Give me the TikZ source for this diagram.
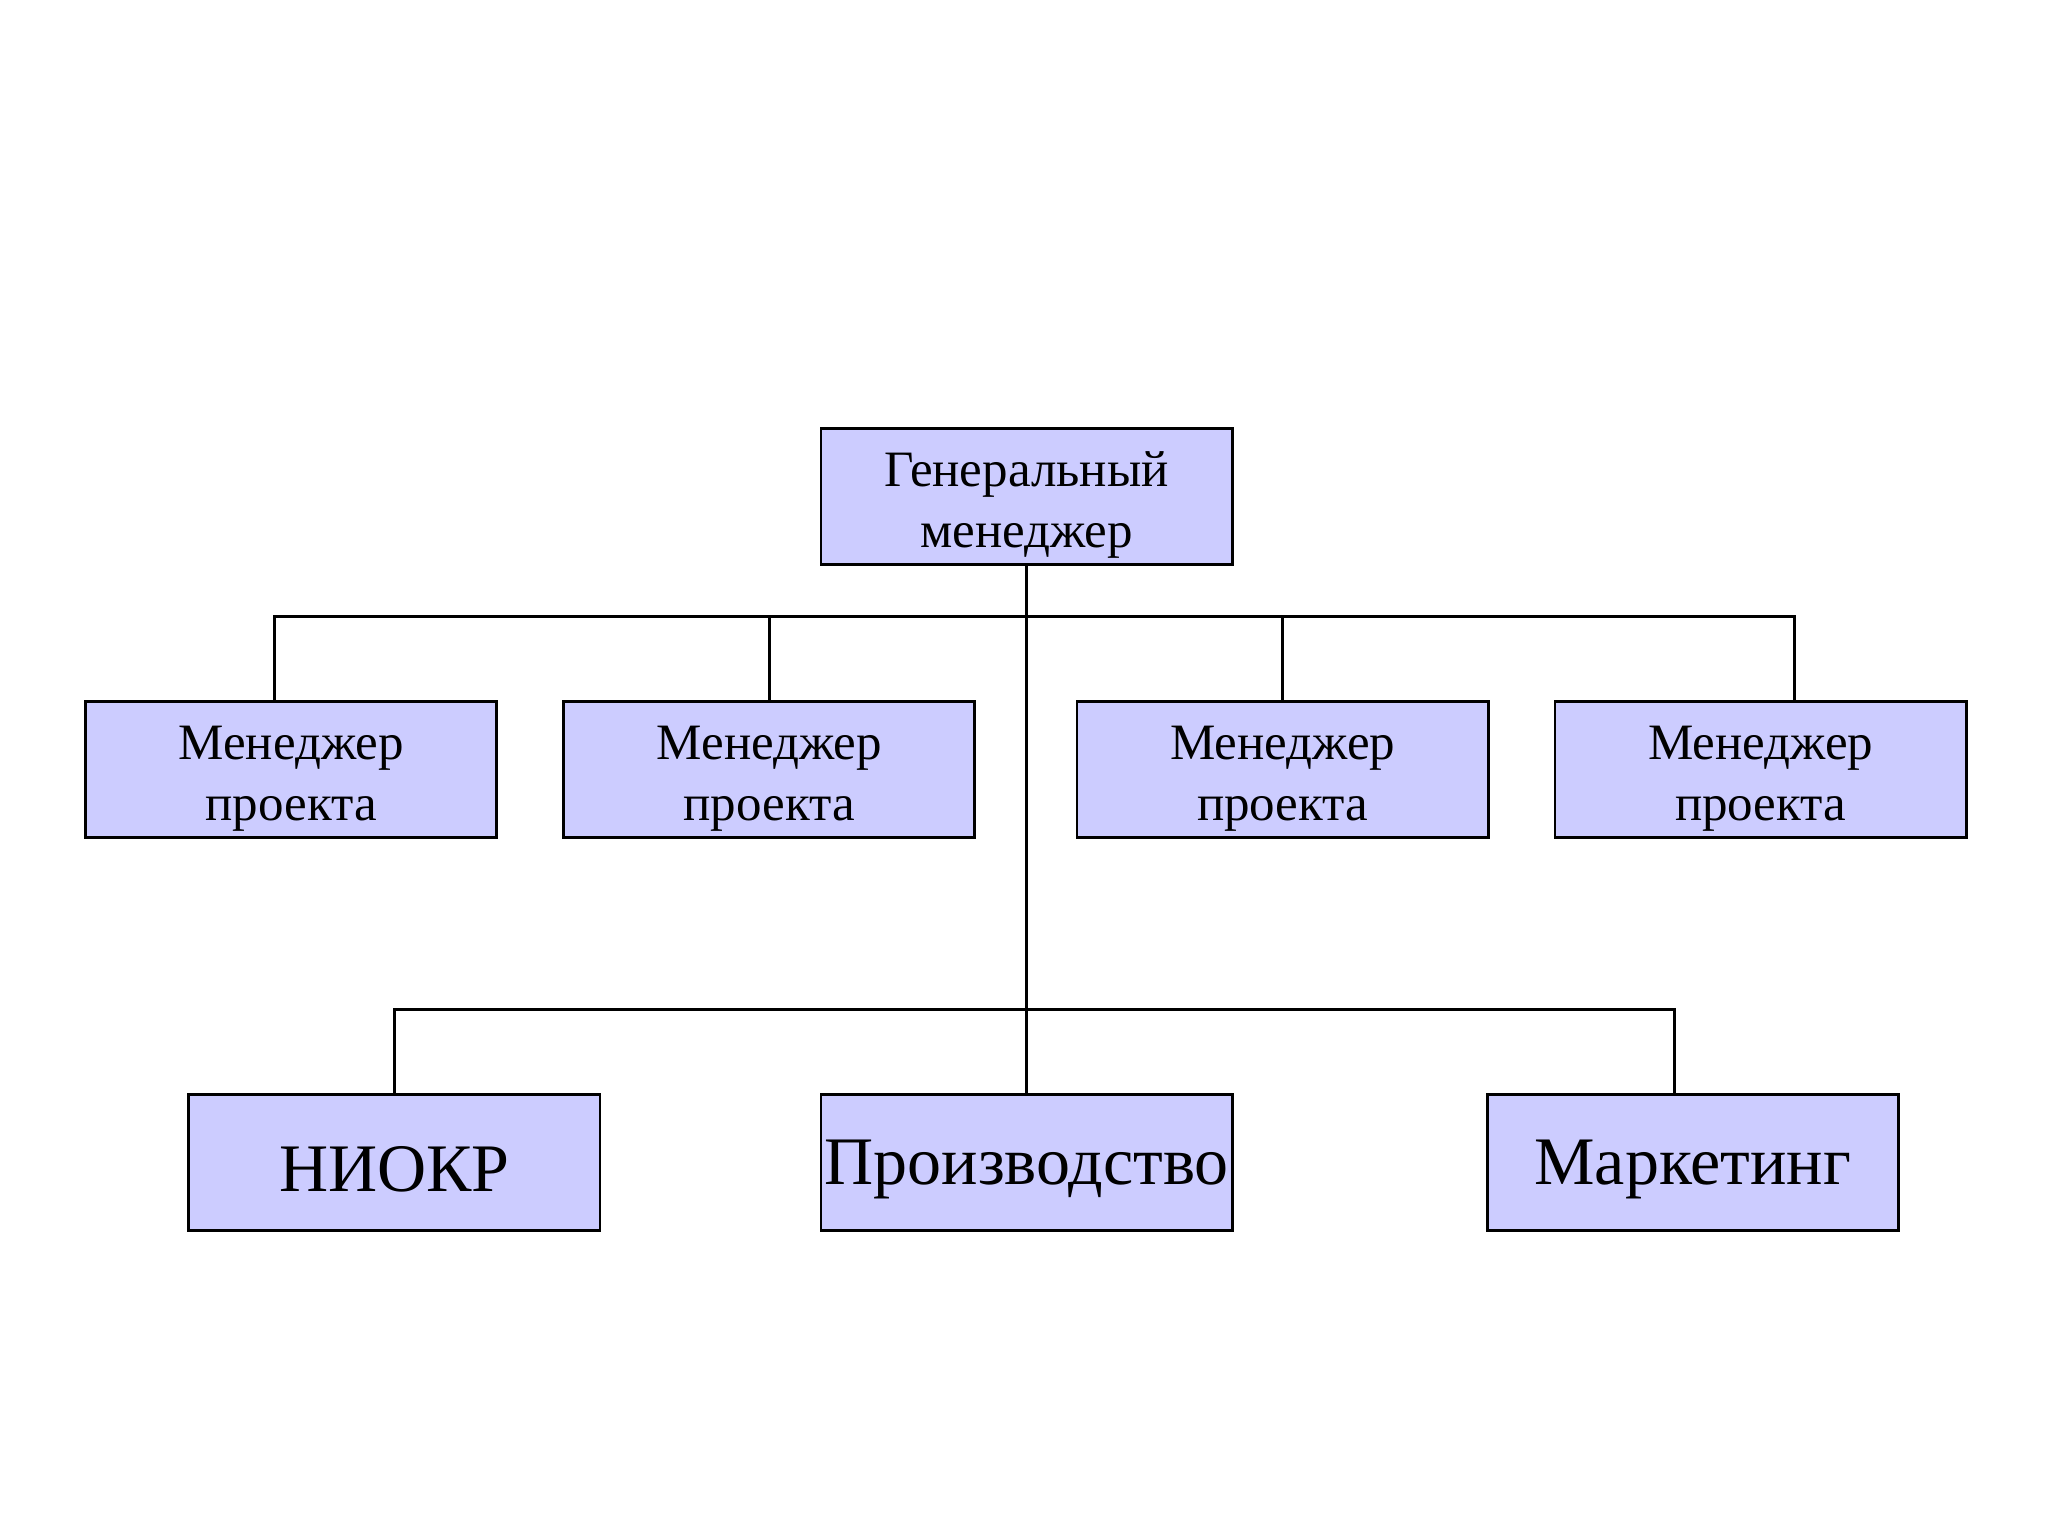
\documentclass[tikz,border=0pt]{standalone}
\usepackage{fontspec}
\setmainfont{Liberation Serif}
\usepackage{tikz}
\definecolor{boxfill}{HTML}{CCCCFF}
\tikzset{unit/.style={inner sep=0pt, draw, line width=1pt, fill=boxfill, align=center,
    minimum width=51mm, minimum height=16.9mm},
  small/.style={unit, font=\fontsize{18}{21.6}\selectfont, execute at begin node=\rule{0pt}{14mm}},
  big/.style={unit, font=\fontsize{24}{29}\selectfont, execute at begin node=\rule{0pt}{7.2mm}}}

\begin{document}
\begin{tikzpicture}[x=0.162mm, y=-0.162mm, line width=1pt]
\useasboundingbox (0,0) rectangle (1568,1176);
\node[small] (GM) at (786,380)  {Генеральный\\менеджер};

\node[small] (PM-1) at (223,589)  {Менеджер\\проекта};
\node[small] (PM-2) at (589,589)  {Менеджер\\проекта};
\node[small] (PM-3) at (982,589)  {Менеджер\\проекта};
\node[small] (PM-4) at (1348,589) {Менеджер\\проекта};

\node[big] (RD) at (302,890)   {НИОКР};
\node[big] (Prod) at (786,890) {Производство};
\node[big] (Mkt) at (1296,890) {Маркетинг};

\coordinate (bus1) at (786,472);
\coordinate (bus2) at (786,773);

\draw (GM.south) -- (Prod.north);
\draw ([xshift=-2.1mm]PM-1.north) |- (bus1) -| ([xshift=4.2mm]PM-4.north);
\draw (PM-2.north) -- (PM-2.north |- bus1);
\draw (PM-3.north) -- (PM-3.north |- bus1);
\draw (RD.north) |- (bus2) -| ([xshift=-2.27mm]Mkt.north);
\end{tikzpicture}
\end{document}
